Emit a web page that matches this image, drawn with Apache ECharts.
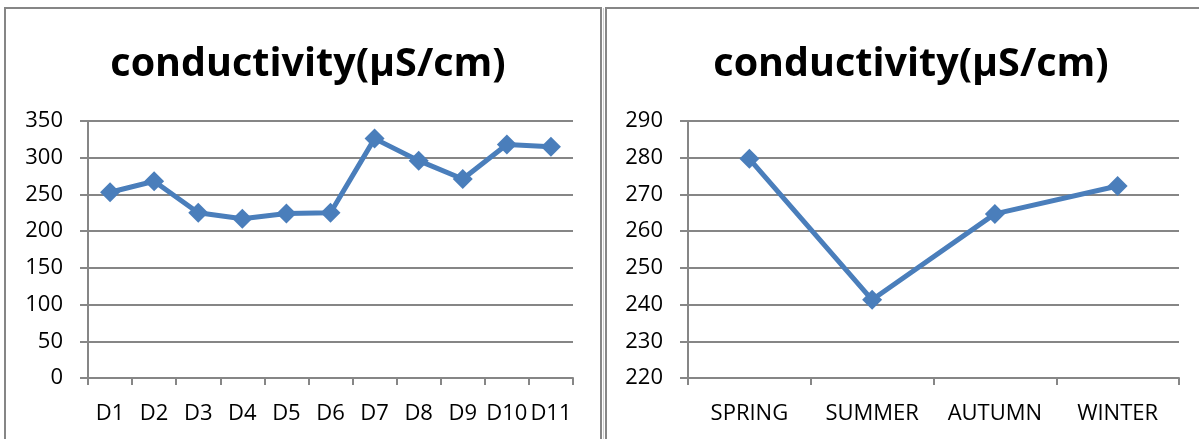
<!DOCTYPE html>
<html><head><meta charset="utf-8">
<script src="https://cdn.jsdelivr.net/npm/echarts@6/dist/echarts.min.js"></script>
<style>html,body{margin:0;padding:0;background:#fff}#c{width:1199px;height:439px}</style>
</head><body><div id="c"></div>
<script>
const titleText = 'conductivity(μS/cm)';
const siteCategories = ['D1','D2','D3','D4','D5','D6','D7','D8','D9','D10','D11'];
const siteValues = [253, 268, 225, 217, 224, 225, 326, 296, 271, 318, 315];
const seasonCategories = ['SPRING','SUMMER','AUTUMN','WINTER'];
const seasonValues = [279.7, 241.3, 264.7, 272.3];

const FONT = '"Open Sans", sans-serif';
const gray = '#868686';
const blue = '#4A7EBB';

function yAxis(idx, min, max, interval) {
  return {
    type: 'value', gridIndex: idx, min: min, max: max, interval: interval,
    axisLine: {show: true, lineStyle: {color: gray, width: 2}},
    axisTick: {show: true, length: 8, lineStyle: {color: gray, width: 2}},
    splitLine: {show: true, lineStyle: {color: gray, width: 2}},
    axisLabel: {color: '#000', fontSize: 22, fontFamily: FONT, margin: 25}
  };
}
function xAxis(idx, cats) {
  return {
    type: 'category', gridIndex: idx, data: cats, boundaryGap: true,
    axisLine: {show: true, lineStyle: {color: gray, width: 2}},
    axisTick: {show: true, length: 7, interval: 0, lineStyle: {color: gray, width: 2}},
    axisLabel: {color: '#000', fontSize: 22, fontFamily: FONT, margin: 25, interval: 0}
  };
}
function series(idx, vals) {
  return {
    type: 'line', xAxisIndex: idx, yAxisIndex: idx, data: vals,
    symbol: 'diamond', symbolSize: 20,
    lineStyle: {color: blue, width: 5},
    itemStyle: {color: blue},
    animation: false
  };
}

const chart = echarts.init(document.getElementById('c'));
chart.setOption({
  animation: false,
  title: [
    {text: titleText, left: 303, top: 60, textAlign: 'center', textVerticalAlign: 'middle',
     textStyle: {fontSize: 39.5, fontWeight: 'bold', fontFamily: FONT, color: '#000'}},
    {text: titleText, left: 906, top: 60, textAlign: 'center', textVerticalAlign: 'middle',
     textStyle: {fontSize: 39.5, fontWeight: 'bold', fontFamily: FONT, color: '#000'}}
  ],
  graphic: [
    {type: 'rect', shape: {x: 5, y: 8, width: 596, height: 460}, style: {fill: 'none', stroke: gray, lineWidth: 2}, silent: true},
    {type: 'rect', shape: {x: 606, y: 8, width: 600, height: 460}, style: {fill: 'none', stroke: gray, lineWidth: 2}, silent: true},
    {type: 'line', shape: {x1: 603.5, y1: 8, x2: 603.5, y2: 439}, style: {stroke: '#d0d0d0', lineWidth: 1}, silent: true}
  ],
  grid: [
    {left: 88, right: 1199 - 573, top: 121, bottom: 439 - 378, containLabel: false},
    {left: 688, right: 1199 - 1179, top: 121, bottom: 439 - 378, containLabel: false}
  ],
  xAxis: [xAxis(0, siteCategories), xAxis(1, seasonCategories)],
  yAxis: [yAxis(0, 0, 350, 50), yAxis(1, 220, 290, 10)],
  series: [series(0, siteValues), series(1, seasonValues)]
});
</script></body></html>
